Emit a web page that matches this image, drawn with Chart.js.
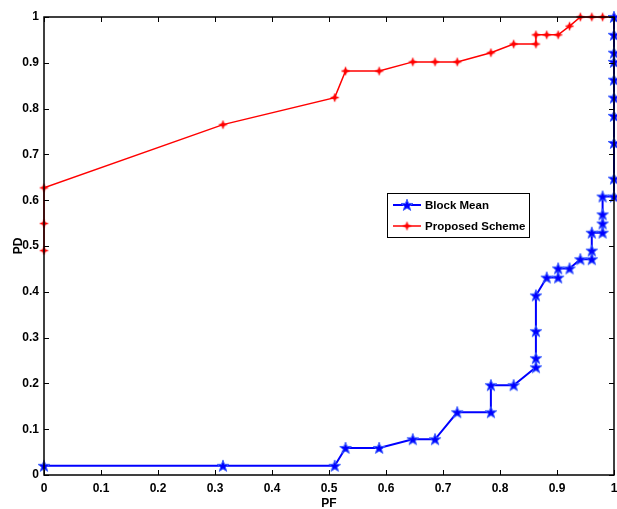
<!DOCTYPE html>
<html>
<head><meta charset="utf-8"><title>PD vs PF</title>
<script src="https://cdn.jsdelivr.net/npm/chart.js"></script>
<style> body{margin:0;background:#fff;} canvas{display:block;} </style>
</head>
<body>
<canvas id="roc" width="617" height="509"></canvas>
<script>
// Block Mean
const pfBlock = [0, 0.314, 0.51, 0.529, 0.588, 0.647, 0.686, 0.725, 0.784, 0.784, 0.824, 0.863, 0.863, 0.863, 0.863,
                 0.882, 0.902, 0.902, 0.922, 0.941, 0.961, 0.961, 0.961, 0.98, 0.98, 0.98, 0.98, 1, 1, 1, 1, 1, 1, 1, 1, 1, 1];
const pdBlock = [0.02, 0.02, 0.02, 0.059, 0.059, 0.078, 0.078, 0.137, 0.137, 0.196, 0.196, 0.235, 0.255, 0.314, 0.392,
                 0.431, 0.431, 0.451, 0.451, 0.471, 0.471, 0.49, 0.529, 0.529, 0.549, 0.569, 0.608, 0.608, 0.647, 0.725, 0.784, 0.824, 0.863, 0.902, 0.922, 0.961, 1];
// Proposed Scheme
const pfProp = [0, 0, 0, 0.314, 0.51, 0.529, 0.588, 0.647, 0.686, 0.725, 0.784, 0.824, 0.863, 0.863, 0.882, 0.902, 0.922, 0.941, 0.961, 0.98, 1];
const pdProp = [0.49, 0.549, 0.627, 0.765, 0.824, 0.882, 0.882, 0.902, 0.902, 0.902, 0.922, 0.941, 0.941, 0.961, 0.961, 0.961, 0.98, 1, 1, 1, 1];

const tickVals = [0, 0.1, 0.2, 0.3, 0.4, 0.5, 0.6, 0.7, 0.8, 0.9, 1];
const seriesNames = ['Block Mean', 'Proposed Scheme'];

const FONT = '"Liberation Sans", Arial, sans-serif';

function starMarker(color) {
  const c = document.createElement('canvas');
  c.width = 14; c.height = 14;
  const g = c.getContext('2d');
  g.beginPath();
  for (let i = 0; i < 10; i++) {
    const r = i % 2 ? 2.5 : 6.2;
    const a = -Math.PI / 2 + i * Math.PI / 5;
    g.lineTo(7 + r * Math.cos(a), 7.4 + r * Math.sin(a));
  }
  g.closePath();
  g.fillStyle = color; g.fill();
  g.lineWidth = 1; g.strokeStyle = '#3a5cff'; g.stroke();
  return c;
}
function plusMarker(color) {
  const c = document.createElement('canvas');
  c.width = 11; c.height = 11;
  const g = c.getContext('2d');
  g.strokeStyle = color; g.fillStyle = color; g.lineWidth = 1.5;
  g.beginPath(); g.moveTo(5.5, 1.5); g.lineTo(5.5, 9.5); g.moveTo(1.5, 5.5); g.lineTo(9.5, 5.5); g.stroke();
  g.beginPath(); g.arc(5.5, 5.5, 2.3, 0, Math.PI * 2); g.fill();
  return c;
}
const blueStar = starMarker('#0000ff');
const redPlus = plusMarker('#ff0000');

const frame = {
  id: 'frame',
  afterDraw(chart) {
    const {ctx, chartArea: a, scales: {x, y}} = chart;
    ctx.save();
    ctx.strokeStyle = '#000'; ctx.lineWidth = 1;
    ctx.beginPath();
    tickVals.forEach(v => {
      const px = Math.round(x.getPixelForValue(v)) + 0.5;
      ctx.moveTo(px, a.bottom); ctx.lineTo(px, a.bottom - 5);
      ctx.moveTo(px, a.top); ctx.lineTo(px, a.top + 5);
      const py = Math.round(y.getPixelForValue(v)) + 0.5;
      ctx.moveTo(a.left, py); ctx.lineTo(a.left + 5, py);
      ctx.moveTo(a.right, py); ctx.lineTo(a.right - 5, py);
    });
    ctx.stroke();
    ctx.lineWidth = 1.5;
    ctx.strokeRect(a.left, a.top, a.right - a.left, a.bottom - a.top);

    // legend box
    const lx = 387, ly = 193, lw = 142, lh = 44;
    ctx.fillStyle = '#fff'; ctx.fillRect(lx, ly, lw, lh);
    ctx.lineWidth = 1; ctx.strokeRect(lx + 0.5, ly + 0.5, lw, lh);
    ctx.font = 'bold 11.5px ' + FONT;
    ctx.textBaseline = 'middle';
    const rows = [[205, '#0000ff', blueStar], [226, '#ff0000', redPlus]];
    rows.forEach((r, i) => {
      ctx.strokeStyle = r[1]; ctx.lineWidth = i ? 1.5 : 2;
      ctx.beginPath(); ctx.moveTo(393, r[0]); ctx.lineTo(421, r[0]); ctx.stroke();
      ctx.drawImage(r[2], 407 - r[2].width / 2, r[0] - r[2].height / 2);
      ctx.fillStyle = '#000';
      ctx.fillText(seriesNames[i], 425, r[0] + 1);
    });
    ctx.restore();
  }
};

const tickFont = {family: FONT, size: 12, weight: 'bold'};
const titleFont = {family: FONT, size: 12, weight: 'bold', lineHeight: 1};
const fmt = v => String(Math.round(v * 10) / 10);

new Chart(document.getElementById('roc'), {
  type: 'scatter',
  data: {
    datasets: [
      { label: seriesNames[0], data: pfBlock.map((v, i) => ({x: v, y: pdBlock[i]})),
        showLine: true, borderColor: '#0000ff', borderWidth: 2, pointStyle: blueStar, clip: false },
      { label: seriesNames[1], data: pfProp.map((v, i) => ({x: v, y: pdProp[i]})),
        showLine: true, borderColor: '#ff0000', borderWidth: 1.5, pointStyle: redPlus, clip: false }
    ]
  },
  options: {
    responsive: false, animation: false, devicePixelRatio: 1,
    layout: { autoPadding: false, padding: { top: 17, right: 3, left: 0, bottom: 0 } },
    plugins: { legend: { display: false }, tooltip: { enabled: false } },
    scales: {
      x: { type: 'linear', min: 0, max: 1,
           afterBuildTicks: s => { s.ticks = tickVals.map(v => ({value: v})); },
           afterFit: s => { s.height = 34; s.paddingLeft = 0; s.paddingRight = 0; },
           grid: { display: false, drawTicks: false }, border: { display: false },
           ticks: { color: '#000', font: tickFont, padding: 6, maxRotation: 0, callback: fmt },
           title: { display: true, text: 'PF', color: '#000', font: titleFont, padding: {top: 0, bottom: -1} } },
      y: { type: 'linear', min: 0, max: 1,
           afterBuildTicks: s => { s.ticks = tickVals.map(v => ({value: v})); },
           afterFit: s => { s.width = 44; },
           grid: { display: false, drawTicks: false }, border: { display: false },
           ticks: { color: '#000', font: tickFont, padding: 5, callback: fmt },
           title: { display: true, text: 'PD', color: '#000', font: titleFont, padding: {top: 13, bottom: 13} } }
    }
  },
  plugins: [frame]
});
</script>
</body>
</html>
